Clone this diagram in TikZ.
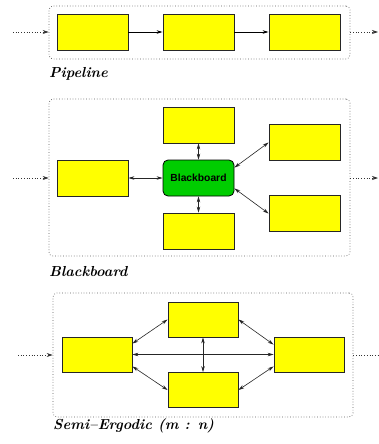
\documentclass[tikz,border=0pt]{standalone}
\usepackage{fontspec}
\newfontfamily\bbfont{Liberation Sans}
\usetikzlibrary{arrows.meta,calc}
\definecolor{boxyellow}{RGB}{255,255,0}
\definecolor{bbgreen}{RGB}{0,205,0}
\definecolor{framegray}{RGB}{90,90,90}
\tikzset{
  ybox/.style={draw=black!85, line width=0.8pt, fill=boxyellow, minimum width=71pt, minimum height=36pt, inner sep=0pt},
  sbox/.style={draw=black!85, line width=0.8pt, fill=boxyellow, minimum width=70pt, minimum height=35pt, inner sep=0pt},
  bbbox/.style={draw=black, line width=0.8pt, fill=bbgreen, rounded corners=5pt, minimum width=71pt, minimum height=36pt, inner sep=0pt, font=\bbfont\bfseries\fontsize{10.3}{12}\selectfont},
  frame/.style={draw=framegray, dotted, line width=0.7pt, rounded corners=4pt, inner sep=0pt},
  flow/.style={-{Stealth[length=6pt,width=3.5pt]}, line width=0.8pt, black},
  dflow/.style={-{Stealth[length=6pt,width=4pt]}, dotted, line width=0.7pt, black!80},
  both/.style={{Stealth[length=6pt,width=3.5pt]}-{Stealth[length=6pt,width=3.5pt]}, line width=0.6pt, black!85},
  lab/.style={anchor=west, inner sep=0pt, font=\fontsize{14.5}{16}\selectfont\bfseries\itshape},
}
\begin{document}
\begin{tikzpicture}[x=1pt,y=-1pt]
\useasboundingbox (0,0) rectangle (379,444);
% ---------- Pipeline ----------
\node[frame, minimum width=301pt, minimum height=53pt] (F1) at (199.5,32.5) {};
\node[ybox] (P1) at (92.5,32) {};
\node[ybox] (P2) at (198.5,32) {};
\node[ybox] (P3) at (304.5,32) {};
\draw[flow] (P1) -- (P2);
\draw[flow] (P2) -- (P3);
\coordinate (I1) at (13,32);
\coordinate (O1) at (378,32);
\draw[dflow] (I1) -- (F1.west |- I1);
\draw[dflow] (F1.east |- O1) -- (O1);
\node[lab] (L1) at (49,74) {Pipeline};
% ---------- Blackboard ----------
\node[frame, minimum width=301pt, minimum height=157pt] (F2) at (199.5,177.5) {};
\node[ybox] (BL) at (92.5,178) {};
\node[ybox] (BT) at (198.5,125) {};
\node[bbbox] (BB) at (198.5,178) {Blackboard};
\node[ybox] (BD) at (198.5,231) {};
\node[ybox] (BR1) at (304.5,142.5) {};
\node[ybox] (BR2) at (304.5,213.5) {};
\draw[both] (BL) -- (BB);
\draw[both] (BT) -- (BB);
\draw[both] (BD) -- (BB);
\draw[both] ($(BB.north east)+(0,8)$) -- (BR1.west);
\draw[both] ($(BB.south east)+(0,-8)$) -- (BR2.west);
\coordinate (I2) at (13,178);
\coordinate (O2) at (378,178);
\draw[dflow] (I2) -- (F2.west |- I2);
\draw[dflow] (F2.east |- O2) -- (O2);
\node[lab] (L2) at (49,272) {Blackboard};
% ---------- Semi-Ergodic ----------
\node[frame, minimum width=300pt, minimum height=124pt] (F3) at (203,355) {};
\node[sbox] (SL) at (97,354.5) {};
\node[sbox] (ST) at (203,319.5) {};
\node[sbox] (SB) at (203,390) {};
\node[sbox] (SR) at (309,354.5) {};
\draw[both] (SL) -- (SR);
\draw[both] (ST) -- (SB);
\draw[both] ($(SL.north east)+(0,7)$) -- (ST.west);
\draw[both] (ST.east) -- ($(SR.north west)+(0,8)$);
\draw[both] ($(SL.south east)+(0,-6)$) -- (SB.west);
\draw[both] (SB.east) -- ($(SR.south west)+(0,-6)$);
\coordinate (I3) at (18,355);
\coordinate (O3) at (379,355);
\draw[dflow] (I3) -- (F3.west |- I3);
\draw[dotted, line width=0.7pt, black!80] (F3.east |- O3) -- (O3);
\node[lab] (L3) at (53,426) {Semi–Ergodic (m : n)};
\end{tikzpicture}
\end{document}
